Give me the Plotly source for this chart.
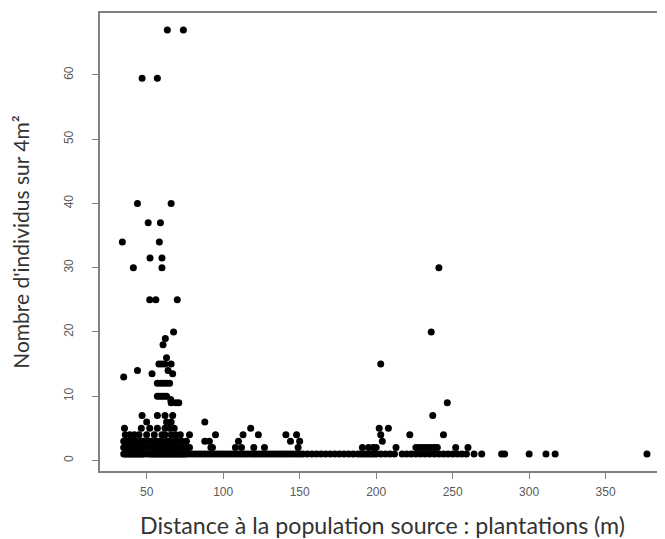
import plotly.graph_objects as go

# x-distances (m) of observations, grouped by count per 4 m²
x_count1 = [35, 36, 37, 38, 39, 40, 41, 42, 43, 44, 45, 46, 47, 48, 50, 52, 53, 54, 55, 56,
            57, 58, 59, 60, 61, 62, 63, 64, 65, 66, 67, 68, 69, 70, 71, 72, 73, 74, 75, 76,
            78, 80, 82, 84, 86, 88, 90, 92, 94, 96, 98, 100, 102, 104, 106, 108, 110, 112,
            114, 116, 118, 120, 122, 124, 126, 128, 130, 132, 134, 136, 138, 140, 142, 144,
            146, 148, 150, 152, 155, 158, 161, 164, 167, 170, 173, 176, 179, 182, 185, 188,
            190, 192, 194, 196, 198, 200, 203, 206, 209, 212, 217, 220, 223, 226, 229, 232,
            235, 238, 241, 244, 247, 250, 253, 256, 259, 264, 269, 282, 284, 300, 311, 317, 377]
x_count2 = [35, 36, 37, 38, 39, 40, 41, 42, 43, 44, 45, 46, 48, 50, 52, 54, 55, 56, 57, 58,
            59, 60, 61, 62, 63, 64, 65, 66, 67, 68, 70, 72, 74, 76, 78, 92, 93, 108, 112, 120,
            127, 149, 191, 195, 198, 200, 213, 226, 228, 230, 232, 234, 236, 238, 240, 252, 260]
x_count3 = [35, 37, 39, 41, 43, 46, 48, 51, 53, 56, 58, 60, 63, 65, 68, 70, 73, 76,
            88, 91, 110, 144, 150, 204]
x_count4 = [36, 39, 42, 45, 50, 55, 60, 62, 66, 69, 72, 78, 95, 113, 123, 141, 148, 203, 222, 244]
x_count5 = [35.5, 46.5, 52, 57, 62, 65, 68, 118, 202, 208]
x_count6 = [50, 63, 66, 88]
x_count7 = [47, 57, 62, 67, 237]
x_count9 = [66, 69, 71, 246.5]
x_count10 = [57, 58.5, 60, 61.5, 63]

# sparser, higher counts: (distance, count)
x_high = [65.7, 57, 59, 61, 63, 65, 35, 53.5, 67, 44, 64, 58, 60, 62, 66, 203, 63,
          60.7, 62.2, 67.6, 236, 52, 56, 70, 41.3, 60, 241, 52.2, 60, 34.1, 58.3,
          51, 59, 44, 66, 47, 57, 63.5, 74]
y_high = [9.5, 12, 12, 12, 12, 12, 13, 13.5, 13.5, 14, 14, 15, 15, 15, 15, 15, 16,
          18, 19, 20, 20, 25, 25, 25, 30, 30, 30, 31.5, 31.5, 34, 34,
          37, 37, 40, 40, 59.5, 59.5, 67, 67]

x_ticks = [50, 100, 150, 200, 250, 300, 350]
y_ticks = [0, 10, 20, 30, 40, 50, 60]

groups = [(x_count1, 1), (x_count2, 2), (x_count3, 3), (x_count4, 4), (x_count5, 5),
          (x_count6, 6), (x_count7, 7), (x_count9, 9), (x_count10, 10)]
xs, ys = [], []
for gx, level in groups:
    xs += gx
    ys += [level] * len(gx)
xs += x_high
ys += y_high

fig = go.Figure(go.Scatter(
    x=xs, y=ys, mode="markers",
    marker=dict(color="black", size=7, line=dict(width=0)),
    hoverinfo="x+y", showlegend=False))

axis_col = "#808080"
# the page body adds an 8px offset, so the figure is sized/margined to compensate
fig.update_layout(
    width=657, height=531,
    margin=dict(l=92, r=0, t=5, b=68, autoexpand=False),
    paper_bgcolor="white", plot_bgcolor="white",
    font=dict(family="Liberation Sans, Arial, sans-serif", color="#555555"),
    xaxis=dict(
        range=[19.5, 388.8], tickvals=x_ticks, ticktext=[str(v) for v in x_ticks],
        showgrid=False, zeroline=False, automargin=False,
        showline=True, linecolor=axis_col, linewidth=1.5, mirror=True,
        ticks="outside", ticklen=6, tickcolor=axis_col, tickwidth=1,
        ticklabelstandoff=3,
        tickfont=dict(size=12, color="#5a5a5a"),
        title=dict(text="Distance à la population source : plantations (m)",
                   font=dict(family="Lato, Open Sans, sans-serif", size=23.2, color="#333333"),
                   standoff=24),
    ),
    yaxis=dict(
        range=[-1.64, 69.64], tickvals=y_ticks, ticktext=[str(v) for v in y_ticks],
        showgrid=False, zeroline=False, automargin=False,
        showline=True, linecolor=axis_col, linewidth=1.5, mirror=False,
        ticks="outside", ticklen=6, tickcolor=axis_col, tickwidth=1,
        tickangle=-90, ticklabelstandoff=14,
        tickfont=dict(size=12, color="#5a5a5a"),
        title=dict(text="Nombre d'individus sur 4m²",
                   font=dict(family="Lato, Open Sans, sans-serif", size=21, color="#333333"),
                   standoff=32),
    ),
)

fig.write_html("out.html")
